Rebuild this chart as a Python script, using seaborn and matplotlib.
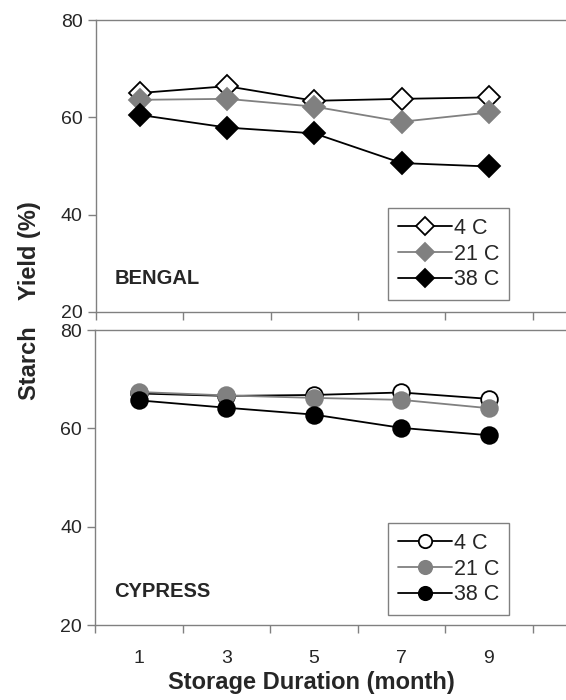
import pandas as pd
import matplotlib
matplotlib.use("Agg")
import matplotlib.pyplot as plt
import seaborn as sns

sns.set_style("ticks")
plt.rcParams['font.family'] = ['Liberation Sans', 'DejaVu Sans']

months = [1, 3, 5, 7, 9]
temps = ["4 C", "21 C", "38 C"]

# Bengal starch yield (%)
bengal_4 = [65.0, 66.4, 63.4, 63.8, 64.1]
bengal_21 = [63.6, 63.8, 62.2, 59.1, 61.0]
bengal_38 = [60.5, 57.9, 56.7, 50.6, 49.9]

# Cypress starch yield (%)
cypress_4 = [67.1, 66.6, 66.8, 67.3, 66.0]
cypress_21 = [67.4, 66.7, 66.2, 65.8, 64.1]
cypress_38 = [65.7, 64.2, 62.8, 60.1, 58.6]

gray = "#808080"
styles = {
    "4 C": dict(color="black", markerfacecolor="white", markeredgecolor="black"),
    "21 C": dict(color=gray, markerfacecolor=gray, markeredgecolor=gray),
    "38 C": dict(color="black", markerfacecolor="black", markeredgecolor="black"),
}

fig = plt.figure(figsize=(5.66, 7), dpi=100)
ax1 = fig.add_axes([0.1696, 0.5543, 0.8304, 0.4171])
ax2 = fig.add_axes([0.168, 0.1071, 0.832, 0.4214])


def draw(ax, series, marker, msize, name, legend_y, show_labels):
    for t, vals in zip(temps, series):
        df = pd.DataFrame({"month": months, "yield": vals})
        sns.lineplot(data=df, x="month", y="yield", ax=ax, marker=marker,
                     markersize=msize, linewidth=1.3, markeredgewidth=1.3,
                     label=t, **styles[t])
    ax.set_xlim(0, 10.76)
    ax.set_ylim(20, 80)
    ax.set_yticks([20, 40, 60, 80])
    ax.set_xticks([0, 2, 4, 6, 8, 10], labels=[""] * 6)
    minor_labels = [str(m) for m in months] if show_labels else [""] * 5
    ax.set_xticks(months, labels=minor_labels, minor=True)
    ax.tick_params(axis="x", which="minor", length=0, labelsize=14, pad=18)
    ax.tick_params(axis="both", which="major", length=6, width=1,
                   color=gray, labelsize=14, direction="out")
    for s in ["left", "bottom", "top"]:
        ax.spines[s].set_color(gray)
        ax.spines[s].set_linewidth(1)
    ax.spines["right"].set_visible(False)
    ax.set_xlabel("")
    ax.set_ylabel("")
    ax.text(0.04, 0.115, name, transform=ax.transAxes, fontsize=14.5,
            fontweight="bold", va="center", ha="left")
    leg = ax.legend(loc="lower right", bbox_to_anchor=(0.879, legend_y),
                    borderaxespad=0, fontsize=15.5, handlelength=2.5,
                    handletextpad=0.1, labelspacing=0.22, fancybox=False,
                    edgecolor=gray, framealpha=1, borderpad=0.45,
                    markerscale=0.8)
    leg.get_frame().set_linewidth(1)


draw(ax1, [bengal_4, bengal_21, bengal_38], "D", 11, "BENGAL", 0.041, False)
draw(ax2, [cypress_4, cypress_21, cypress_38], "o", 12, "CYPRESS", 0.034, True)

fig.text(0.053, 1 - 301 / 700, "Starch    Yield (%)", rotation=90,
         fontsize=17, fontweight="bold", ha="center", va="center")
fig.text(0.551, 1 - 682 / 700, "Storage Duration (month)", fontsize=17,
         fontweight="bold", ha="center", va="center")

fig.savefig("out.png", dpi=100)
